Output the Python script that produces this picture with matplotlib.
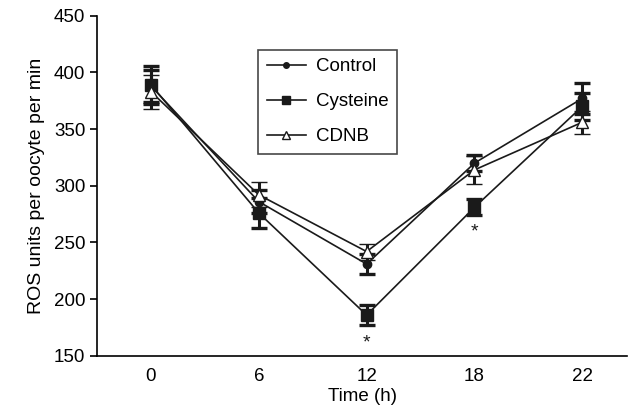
import matplotlib
matplotlib.use('Agg')
import matplotlib.pyplot as plt
from matplotlib.lines import Line2D

plt.rcParams['font.family'] = ['Liberation Sans', 'DejaVu Sans']

times = ['0', '6', '12', '18', '22']
control = [388, 286, 231, 320, 377]
control_err = [14, 10, 9, 7, 14]
cysteine = [389, 276, 186, 281, 370]
cysteine_err = [17, 13, 9, 7, 12]
cdnb = [383, 292, 242, 314, 356]
cdnb_err = [15, 11, 7, 12, 10]
star_pos = [2, 3]
star_y = [161, 259]

x = list(range(len(times)))
ink = '#1a1a1a'

fig = plt.figure(figsize=(6.28, 4.11), dpi=100)
ax = fig.add_axes([0.1545, 0.134, 0.844, 0.828])

ekw = dict(color=ink, lw=1.2, capsize=5.5, capthick=2.4, elinewidth=2.2)
ax.errorbar(x, cysteine, yerr=cysteine_err, marker='s', ms=8, mfc=ink,
            mec=ink, zorder=3, **ekw)
ax.errorbar(x, control, yerr=control_err, marker='o', ms=6, mfc=ink,
            mec=ink, zorder=4, **ekw)
ax.errorbar(x, cdnb, yerr=cdnb_err, marker='^', ms=9, mfc='white',
            mec=ink, mew=1.0, zorder=5, **ekw)

for p, yv in zip(star_pos, star_y):
    ax.text(p, yv, '*', ha='center', va='center', fontsize=14, color=ink)

ax.set_xlim(-0.5, 4.415)
ax.set_ylim(150, 450)
ax.set_xticks(x)
ax.set_xticklabels(times)
ax.set_yticks(range(150, 451, 50))
ax.tick_params(axis='x', length=0, labelsize=13.5, pad=9)
ax.tick_params(axis='y', length=5, width=1.2, labelsize=13.5, direction='out')
ax.spines['top'].set_visible(False)
ax.spines['right'].set_visible(False)
ax.spines['left'].set_linewidth(1.2)
ax.spines['bottom'].set_linewidth(1.2)
ax.set_xlabel('Time (h)', fontsize=13.5, labelpad=2)
ax.set_ylabel('ROS units per oocyte per min', fontsize=14, labelpad=6)

handles = [
    Line2D([], [], color=ink, lw=1.2, marker='o', ms=4, mfc=ink, mec=ink),
    Line2D([], [], color=ink, lw=1.2, marker='s', ms=6, mfc=ink, mec=ink),
    Line2D([], [], color=ink, lw=1.2, marker='^', ms=6, mfc='white', mec=ink),
]
labels = ['Control', 'Cysteine', 'CDNB']
leg = ax.legend(handles, labels, loc='upper left',
                bbox_to_anchor=(0.304, 0.9), fontsize=13.5,
                frameon=True, fancybox=False, edgecolor=ink,
                handlelength=2.1, handletextpad=0.55, borderpad=0.45,
                labelspacing=0.95, borderaxespad=0)
leg.get_frame().set_linewidth(1.2)

fig.savefig('out.png', dpi=100)
